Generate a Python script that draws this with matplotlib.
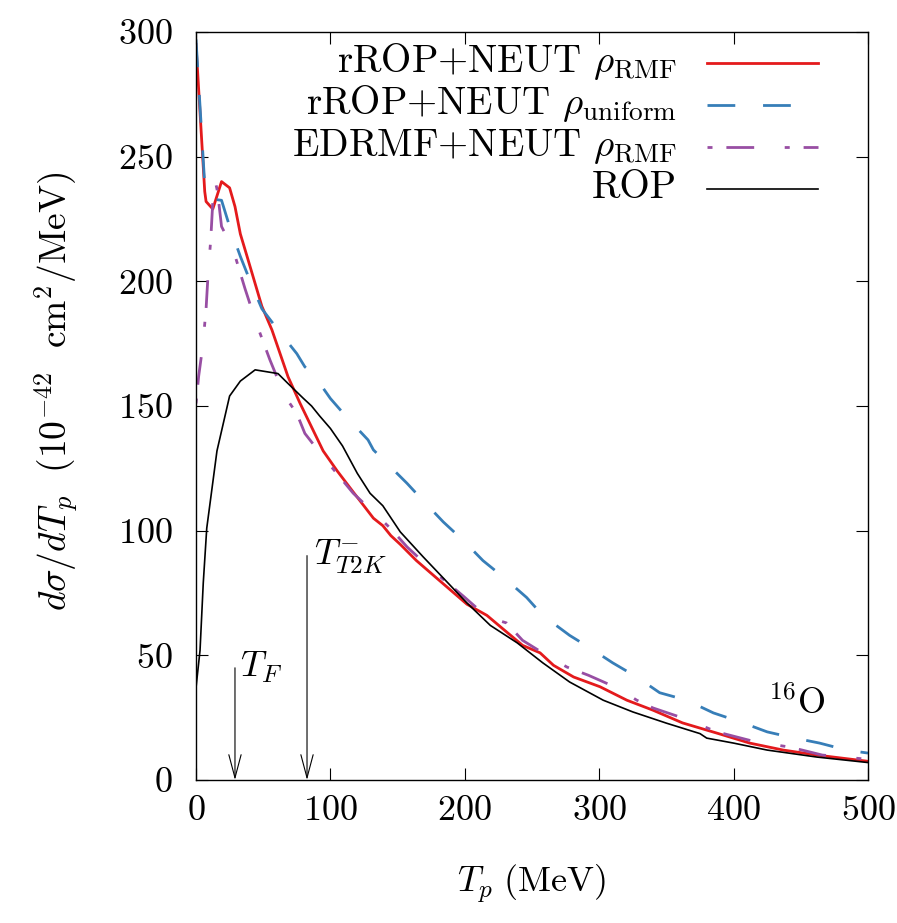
import matplotlib
matplotlib.use('Agg')
import matplotlib.pyplot as plt

plt.rcParams['font.family'] = 'serif'
plt.rcParams['font.serif'] = ['cmr10']
plt.rcParams['mathtext.fontset'] = 'cm'
plt.rcParams['axes.formatter.use_mathtext'] = True
plt.rcParams['font.size'] = 26

# rROP+NEUT rho_RMF
red_T = [0, 6.5, 7.5, 12.5, 19, 25, 29, 33, 38, 49, 56.5, 68.5, 77.5, 94.6, 105, 117, 132, 139,
         145, 152, 164, 179, 201.6, 216.5, 228.6, 243, 256, 266, 281, 300.6, 320.6, 340, 362,
         387.6, 412, 437, 462, 500]
red_y = [295, 236, 232, 229, 240, 237.5, 230, 219, 210, 190, 180.5, 161.7, 151, 132, 124, 115.5,
         105, 102, 98, 94.5, 88, 81, 70.5, 66, 60.5, 54, 51, 46, 41.3, 37.4, 32, 28, 22.9,
         18.8, 14.8, 12, 10, 7.5]

# rROP+NEUT rho_uniform
blue_T = [0, 6.7, 12, 19, 25, 33, 40, 49, 61, 75, 81, 87, 100, 112, 128, 132, 157, 169, 184, 199,
          213.5, 228.6, 246, 258, 278, 293, 310, 328, 345, 365, 385, 405, 425, 442, 464, 484, 500]
blue_y = [297, 237, 233, 232.5, 222, 210, 200.5, 189, 180.5, 171, 165.7, 163, 153, 145.6, 136.4,
          132.4, 119, 112, 103.5, 96, 88, 81.4, 73.2, 66, 58, 53, 47, 41.3, 35, 32, 26.9, 23.3,
          19.3, 17.2, 14.8, 12, 10.8]

# EDRMF+NEUT rho_RMF
purple_T = [0, 2, 5, 7.5, 9, 11, 12.5, 14, 16, 19, 27.5, 36.5, 45, 55, 66, 75, 81, 94.6, 117,
            144.6, 157, 174, 199, 216.5, 231, 243, 263, 276, 292, 313, 328, 340, 362, 387.6,
            417, 442, 466, 500]
purple_y = [151, 162, 174, 189, 203, 217, 232, 241, 236, 222, 213, 197, 183, 168.5, 154, 147, 139,
            129.6, 115, 101, 93.5, 85, 73.7, 65.4, 63, 56, 49.3, 45.3, 42, 37, 32, 28.9, 24.9,
            19.3, 15.2, 13.2, 10, 8.3]

# ROP
rop_T = [0, 3, 5.4, 8, 15.6, 25, 33, 44, 61, 68.5, 80, 86, 92, 100, 109, 120, 129.5, 139, 152,
         169, 184, 201.6, 219, 239, 258, 278, 303, 325, 350, 375, 380, 400, 425, 462, 500]
rop_y = [37, 52, 79, 101, 132, 154, 160, 164.5, 163, 159, 153, 150, 146, 141, 134, 123, 115, 110,
         99.5, 89.5, 81, 71, 62, 55, 47, 39.3, 32, 27.3, 22.8, 18.6, 16.8, 14.8, 12, 9.2, 7]

labels = [r'rROP+NEUT $\rho_{\mathrm{RMF}}$', r'rROP+NEUT $\rho_{\mathrm{uniform}}$',
          r'EDRMF+NEUT $\rho_{\mathrm{RMF}}$', 'ROP']
styles = [dict(color='#e41a1c', lw=2.0),
          dict(color='#377eb8', lw=2.0, dashes=(10, 10)),
          dict(color='#984ea3', lw=2.0, dashes=(1.8, 5, 10, 11)),
          dict(color='black', lw=1.2)]

# arrows marking T_F and T_T2K
tf_T, tf_top = 29, 45
t2k_T, t2k_top = 82.6, 90

fig = plt.figure(figsize=(8.97, 9.23), dpi=100)
ax = fig.add_axes([196/897, 1-780/923, 672/897, 748/923])

for (xs, ys), st in zip([(red_T, red_y), (blue_T, blue_y), (purple_T, purple_y), (rop_T, rop_y)], styles):
    ax.plot(xs, ys, **st)

arrow = dict(arrowstyle='->,head_length=0.64,head_width=0.17', color='black', lw=0.8,
             shrinkA=0, shrinkB=0)
ax.annotate('', xy=(tf_T, 0), xytext=(tf_T, tf_top), arrowprops=arrow)
ax.annotate('', xy=(t2k_T, 0), xytext=(t2k_T, t2k_top), arrowprops=arrow)
ax.text(33, 41.3, r'$T_F$', va='baseline', ha='left')
ax.text(87.5, 86.2, r'$T^{-}_{T2K}$', va='baseline', ha='left')
ax.text(425.6, 26.5, r'$^{16}$O', va='baseline', ha='left')

ax.set_xlim(0, 500)
ax.set_ylim(0, 300)
ax.set_xticks(range(0, 501, 100))
ax.set_yticks(range(0, 301, 50))
ax.tick_params(direction='in', length=8.6, width=0.8, top=True, right=True)
ax.tick_params(axis='y', pad=17)
ax.tick_params(axis='x', pad=11)
for s in ax.spines.values():
    s.set_linewidth(1.0)

ax.set_xlabel(r'$T_p\ (\mathrm{MeV})$')
ax.set_ylabel(r'$d\sigma/dT_p\ \ (10^{-42}\ \ \mathrm{cm}^2/\mathrm{MeV})$', fontsize=27)
ax.xaxis.set_label_coords(0.5, -0.11)
ax.yaxis.set_label_coords(-0.171, 0.52)

# key drawn gnuplot style: right aligned text, sample line to its right
key_text_x = (677 - 196) / 672
key_x0, key_x1 = (707 - 196) / 672, (818 - 196) / 672
key_y0 = (780 - 63) / 748
key_dy = 42 / 748
for i, (lab, st) in enumerate(zip(labels, styles)):
    y = key_y0 - i * key_dy
    ax.plot([key_x0, key_x1], [y, y], transform=ax.transAxes, **st)
    ax.text(key_text_x, y - 9 / 748, lab, transform=ax.transAxes, ha='right',
            va='baseline', fontsize=28)

fig.savefig('out.png', dpi=100)
